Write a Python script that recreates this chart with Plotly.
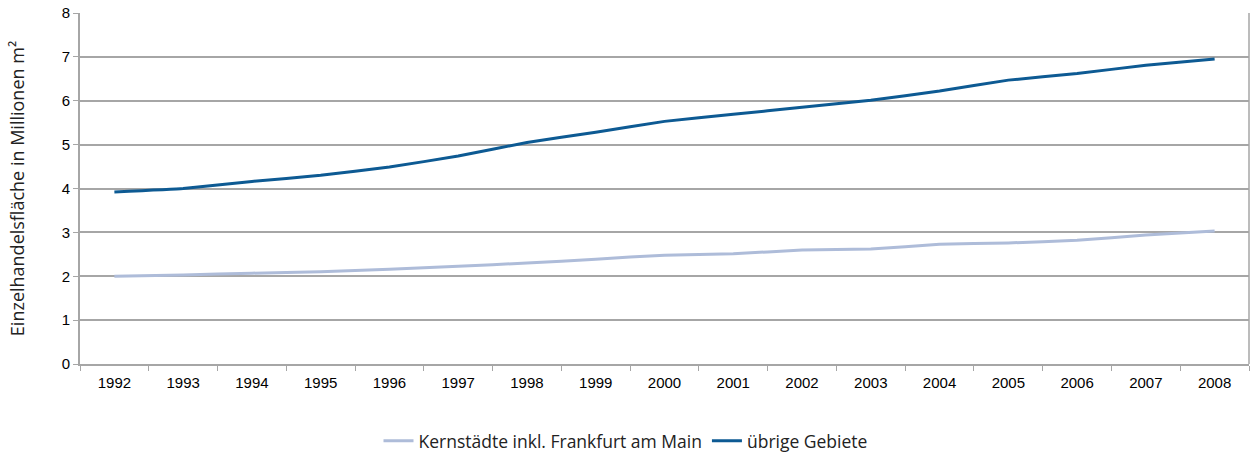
import plotly.graph_objects as go

years = [str(y) for y in range(1992, 2009)]
kernstaedte = [2.00, 2.03, 2.07, 2.10, 2.16, 2.23, 2.30, 2.39, 2.48, 2.51, 2.60, 2.62, 2.73, 2.76, 2.82, 2.94, 3.03]
uebrige = [3.92, 4.00, 4.16, 4.30, 4.49, 4.74, 5.05, 5.28, 5.53, 5.69, 5.85, 6.01, 6.22, 6.47, 6.62, 6.81, 6.95]

fig = go.Figure()
fig.add_trace(go.Scatter(
    x=years, y=kernstaedte, mode="lines", name="Kernstädte inkl. Frankfurt am Main",
    line=dict(color="#aebcd9", width=3, shape="spline", smoothing=0.3),
))
fig.add_trace(go.Scatter(
    x=years, y=uebrige, mode="lines", name="übrige Gebiete",
    line=dict(color="#0d5a93", width=3, shape="spline", smoothing=0.3),
))

grid = "#a6a6a6"
fig.update_layout(
    width=1251, height=456,
    margin=dict(l=80, r=2, t=13, b=92),
    paper_bgcolor="white", plot_bgcolor="white",
    font=dict(family="Liberation Sans, Arial, sans-serif", size=14, color="#000000"),
    showlegend=True,
    legend=dict(
        orientation="h", xref="container", yref="container",
        x=0.5, xanchor="center", y=0.033, yanchor="middle",
        font=dict(family="Open Sans, sans-serif", size=17.5, color="#222222"),
        tracegroupgap=0,
    ),
    xaxis=dict(
        type="category", range=[-0.5, 16.5], tickson="boundaries",
        ticks="outside", ticklen=5, tickcolor=grid, tickwidth=1,
        showline=True, linecolor=grid, linewidth=2, mirror=False,
        showgrid=False, zeroline=False,
        tickfont=dict(size=15), ticklabelstandoff=4,
    ),
    yaxis=dict(
        range=[0, 8], dtick=1, tickformat="d",
        ticks="outside", ticklen=5, tickcolor=grid,
        showline=True, linecolor=grid, linewidth=2,
        showgrid=True, gridcolor=grid, gridwidth=1.5,
        zeroline=False, tickfont=dict(size=15),
        title=dict(text="Einzelhandelsfläche in Millionen m²",
                   font=dict(family="Open Sans, sans-serif", size=18, color="#222222"),
                   standoff=32),
    ),
)

# right border of the plot area
fig.add_shape(type="line", xref="paper", yref="paper", x0=1, x1=1, y0=0, y1=1,
              line=dict(color=grid, width=1.5))

fig.write_html("out.html")
